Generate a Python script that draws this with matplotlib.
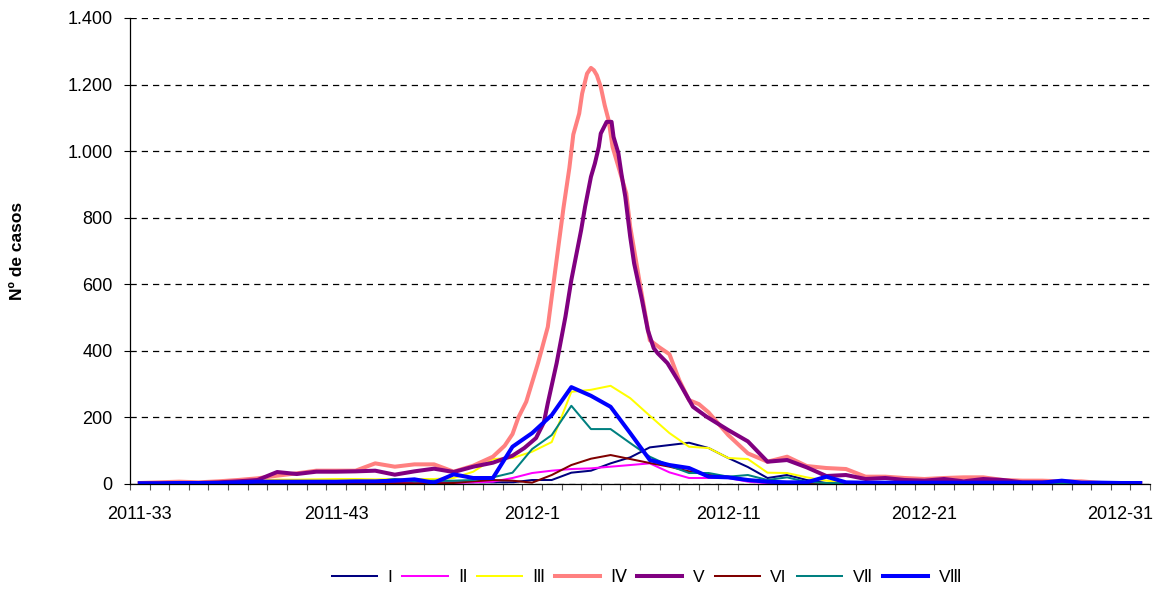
import matplotlib
matplotlib.use("Agg")
import matplotlib.pyplot as plt
from matplotlib.ticker import FixedLocator, FuncFormatter

plt.rcParams['font.family'] = ['Liberation Sans', 'DejaVu Sans']

# week labels: 2011-33 .. 2011-52, 2012-1 .. 2012-32
weeks = ['2011-%d' % w for w in range(33, 53)] + ['2012-%d' % w for w in range(1, 33)]

names = ['I', 'Ⅱ', 'Ⅲ', 'Ⅳ', 'V', 'VI', 'VⅡ', 'VⅢ']

s1 = [2, 2, 2, 3, 3, 3, 3, 3, 3, 3, 3, 4, 4, 4, 5, 5, 5, 5, 5,
      5, 12, 12, 34, 40, 62, 80, 110, 117, 124, 108, 78, 51, 18, 27, 12, 3,
      2, 2, 2, 2, 2, 2, 2, 2, 2, 2, 2, 2, 2, 2, 2, 2]
s2 = [1, 1, 1, 1, 1, 1, 1, 1, 1, 1, 1, 1, 2, 2, 2, 2, 3, 5,
      7, 18, 33, 40, 45, 47, 52, 57, 62, 35, 18, 18, 18, 7, 2,
      1, 1, 1, 1, 1, 1, 1, 1, 1, 1, 1, 1, 1, 1, 1, 1, 1, 1, 1]
s3 = [3, 3, 4, 5, 5, 8, 10, 13, 13, 14, 15, 15, 14, 15,
      15, 15, 18, 37, 75, 78, 97, 126, 277, 283, 295, 258, 205, 153, 112, 108, 78, 75, 34, 33, 20, 10,
      5, 5, 4, 4, 3, 3, 3, 3, 3, 3, 3, 3, 2, 2, 2, 2]
s6 = [1, 1, 1, 1, 1, 1, 1, 1, 2, 2, 2, 2, 2, 2, 2, 2,
      3, 8, 12, 10, 4, 27, 57, 76, 87, 75, 63, 52, 38, 27, 22, 12, 5,
      2, 2, 2, 2, 2, 2, 2, 2, 2, 2, 2, 2, 2, 2, 2, 2, 2, 2, 2]
s7 = [2, 2, 2, 2, 3, 3, 5, 5, 5, 6, 6, 6, 8,
      15, 8, 10, 10, 12, 20, 34, 105, 147, 235, 165, 165, 123, 82, 55, 33, 33, 22, 27, 12, 20, 6,
      3, 3, 2, 2, 2, 2, 2, 2, 2, 2, 2, 2, 2, 2, 2, 2, 2]
s8 = [2, 2, 3, 3, 3, 5, 7, 7, 7, 7, 7, 8, 8, 10, 14,
      4, 29, 18, 18, 112, 153, 207, 291, 265, 232, 153, 72, 57, 48, 22, 20, 12, 7, 5, 5, 22, 5,
      4, 4, 4, 4, 4, 4, 4, 4, 4, 4, 10, 4, 4, 3, 3]

# series IV and V have finer points around the peak (position in weeks)
s4_x = list(range(0, 18)) + [18, 18.6, 19.0, 19.3, 19.7, 20.3, 20.8, 21.0, 21.45, 21.6, 21.9, 22.1,
                             22.4, 22.55, 22.8, 23.0, 23.15, 23.3, 23.5, 23.7, 23.9, 24.1, 24.5,
                             24.8, 25.0, 25.5, 26.0, 26.5, 27.0, 27.5, 28.0, 28.5, 29.0] + list(range(30, 52))
s4 = [3, 5, 7, 5, 8, 12, 17, 25, 32, 40, 40, 40, 62, 52, 59, 59, 37, 55,
      82, 115, 150, 200, 247, 363, 472, 562, 763, 830, 950, 1050,
      1113, 1173, 1233, 1250, 1243, 1228, 1193, 1138, 1093, 1013, 933,
      873, 773, 600, 432, 410, 390, 312, 252, 240, 215,
      147, 92, 67, 82, 54, 48, 45, 22, 22, 18, 15, 18, 20, 20, 12, 10, 10, 8, 8, 3, 3, 2]
s5_x = list(range(0, 20)) + [19.6, 20.2, 20.6, 20.8, 21.25, 21.7, 22.0, 22.5, 22.7, 23.0, 23.2, 23.4,
                             23.5, 23.8, 24.05, 24.15, 24.4, 24.55, 24.75, 25.0, 25.2, 25.6, 25.9,
                             26.2, 26.4, 26.9, 27.45, 28.2, 28.9] + list(range(30, 52))
s5 = [2, 2, 3, 3, 5, 8, 12, 36, 30, 37, 37, 38, 40, 28, 38, 46, 36, 52, 64, 85,
      108, 138, 185, 243, 363, 503, 613, 763, 833, 923, 963, 1013,
      1053, 1088, 1088, 1043, 993, 933, 863, 743, 663, 553, 462,
      408, 393, 363, 310, 232, 202,
      162, 128, 67, 72, 50, 24, 27, 15, 18, 12, 10, 15, 8, 15, 12, 5, 5, 4, 3, 3, 2, 2]

colors = ['#000080', '#FF00FF', '#FFFF00', '#FF8080', '#800080', '#800000', '#008080', '#0000FF']
x = list(range(len(weeks)))

fig = plt.figure(figsize=(11.68, 5.90), dpi=100)
ax = fig.add_axes([130 / 1168, 1 - 484 / 590, 1020 / 1168, 466 / 590])

thin, thick = 1.45, 2.9
ax.plot(x, s1, color=colors[0], lw=thin, label=names[0])
ax.plot(x, s2, color=colors[1], lw=thin, label=names[1])
ax.plot(x, s3, color=colors[2], lw=thin, label=names[2])
ax.plot(s4_x, s4, color=colors[3], lw=thick, label=names[3])
ax.plot(s5_x, s5, color=colors[4], lw=thick, label=names[4])
ax.plot(x, s6, color=colors[5], lw=thin, label=names[5])
ax.plot(x, s7, color=colors[6], lw=thin, label=names[6])
ax.plot(x, s8, color=colors[7], lw=thick, label=names[7])

ax.set_xlim(-0.5, len(weeks) - 0.5)
ax.set_ylim(0, 1400)

ax.set_yticks(range(0, 1401, 200))
ax.yaxis.set_major_formatter(FuncFormatter(lambda v, p: '{:,.0f}'.format(v).replace(',', '.')))
ax.grid(axis='y', color='black', ls=(0, (5, 4)), lw=0.9)
ax.tick_params(axis='y', direction='out', length=4.5, width=0.8, pad=8, labelsize=13)

major = list(range(0, len(weeks), 10))
ax.set_xticks(major)
ax.set_xticklabels([weeks[i] for i in major])
ax.xaxis.set_minor_locator(FixedLocator([i - 0.5 for i in range(len(weeks) + 1)]))
ax.tick_params(axis='x', which='major', length=0, pad=16, labelsize=13)
ax.tick_params(axis='x', which='minor', direction='out', length=4.5, width=0.8, color='#555555')

for side in ['top', 'right']:
    ax.spines[side].set_visible(False)
ax.spines['left'].set_linewidth(0.9)
ax.spines['bottom'].set_linewidth(0.9)

ax.set_ylabel('Nº de casos', fontsize=12.5, fontweight='bold')
ax.yaxis.set_label_coords(-0.103, 0.5)

fig.legend(loc='center', bbox_to_anchor=(0.554, 0.022), ncol=8, frameon=False,
           fontsize=12.5, handlelength=2.6, handletextpad=0.6, columnspacing=0.6)

fig.savefig('out.png', dpi=100)
